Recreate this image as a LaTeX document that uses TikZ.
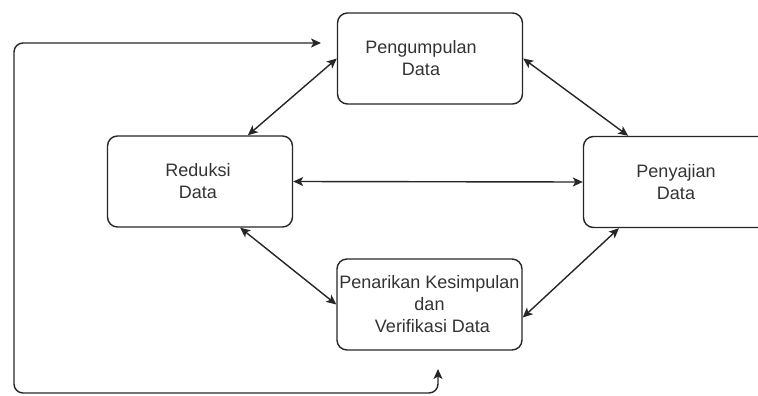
\documentclass[tikz,border=0pt]{standalone}
\usepackage{fontspec}
\setmainfont{Liberation Sans}
\usepackage{tikz}
\usetikzlibrary{arrows.meta,positioning}
\tikzset{
  every node/.style={
    font=\fontsize{18}{22}\selectfont
  },
  proses/.style={
    shape=rectangle,
    rounded corners=10pt,
    draw=black!85,
    line width=1.4pt,
    minimum width=185pt,
    minimum height=91pt,
    inner sep=1pt,
    text=black!80,
    align=center
  },
  panah/.style={
    draw=black!85,
    line width=1.4pt,
    {Stealth[length=10pt,width=9pt,inset=2.5pt]}-{Stealth[length=10pt,width=9pt,inset=2.5pt]}
  }
}

\begin{document}
\begin{tikzpicture}[x=1pt,y=-1pt]
    \useasboundingbox (0,0) rectangle (758,396);
    \node [proses] (peng) at (430,58.5) {Pengumpulan\hspace*{18pt}\\Data\hspace*{18pt}};
    \node [proses] (reduksi) at (200,181.5) {Reduksi\hspace*{4pt}\\Data\hspace*{4pt}};
    \node [proses] (penyajian) at (676,182) {Penyajian\\Data};
    \node [proses] (penarikan) at (429.5,304.5) {Penarikan Kesimpulan\\dan\\\hspace*{6pt}Verifikasi Data};
    \coordinate (ujungatas) at (321,43);
    \coordinate (ujungbawah) at (438,369);

    \path [panah] (peng.west) -- (reduksi.44);
    \path [panah] (peng.east) -- (penyajian.136);
    \path [panah] (reduksi.east) -- (penyajian.west);
    \path [panah] (reduksi.-49) -- (penarikan.west);
    \path [panah] (penyajian.219) -- (penarikan.-8);
    \path [panah, rounded corners=9pt] (ujungbawah) |- (14,393) |- (ujungatas);
  \end{tikzpicture}
\end{document}
